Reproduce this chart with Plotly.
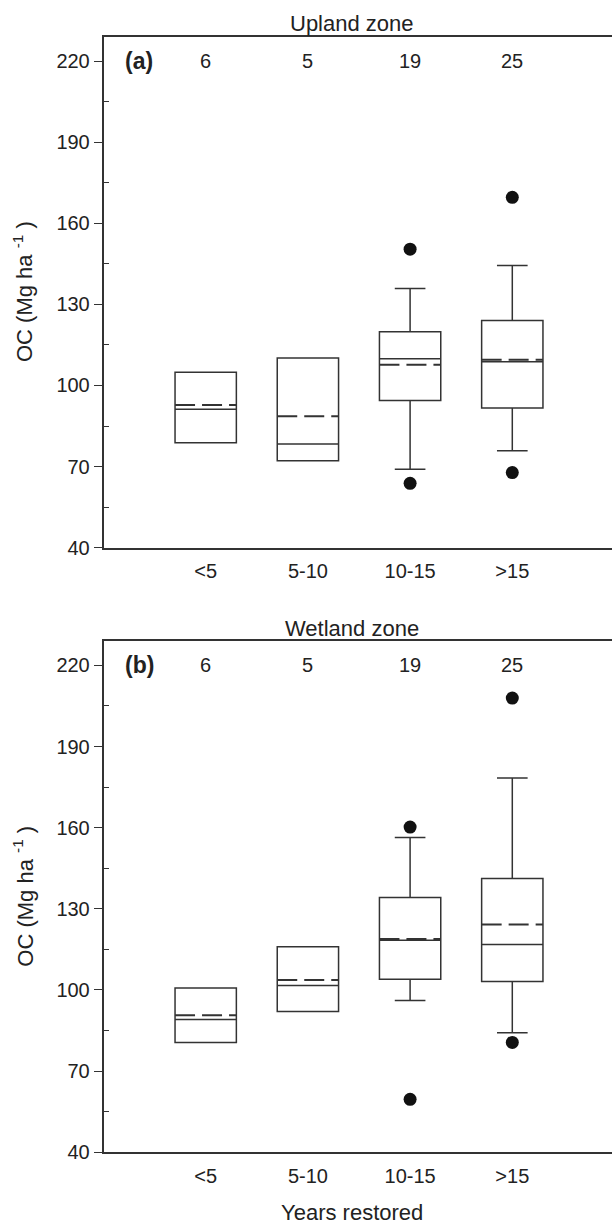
import plotly.graph_objects as go

categories = ["<5", "5-10", "10-15", ">15"]
positions = [1, 2, 3, 4]
n_counts = [6, 5, 19, 25]

# Upland zone (a)
up_q1 = [78.8, 72.2, 94.4, 91.7]
up_median = [91.2, 78.4, 109.9, 108.8]
up_q3 = [104.9, 110.2, 119.9, 124.0]
up_lower = [78.8, 72.2, 69.0, 75.9]
up_upper = [104.9, 110.2, 135.9, 144.4]
up_mean = [92.8, 88.6, 107.7, 109.5]
up_outliers = [[], [], [150.4, 63.8], [169.6, 67.8]]

# Wetland zone (b)
wet_q1 = [80.6, 92.0, 104.0, 103.1]
wet_median = [89.1, 101.7, 118.4, 116.8]
wet_q3 = [100.7, 116.0, 134.2, 141.2]
wet_lower = [80.6, 92.0, 96.1, 84.2]
wet_upper = [100.7, 116.0, 156.4, 178.4]
wet_mean = [90.7, 103.7, 118.8, 124.2]
wet_outliers = [[], [], [160.2, 59.6], [207.9, 80.6]]

y_ticks = [40, 70, 100, 130, 160, 190, 220]
y_minor = [55, 85, 115, 145, 175, 205]

FONT = "Liberation Sans, Arial, Helvetica, sans-serif"
TXT = "#222222"
LINE = "#333333"
W, H = 612, 1226
BOX_W = 0.6

fig = go.Figure()


def add_panel(q1, med, q3, lo, hi, mean, outl, xa, ya):
    fig.add_trace(go.Box(
        x=positions, q1=q1, median=med, q3=q3, lowerfence=lo, upperfence=hi,
        width=BOX_W, whiskerwidth=0.5, fillcolor="white",
        line=dict(color=LINE, width=1.5), boxpoints=False,
        xaxis=xa, yaxis=ya, showlegend=False, hoverinfo="skip"))
    mx, my = [], []
    for p, m in zip(positions, mean):
        mx += [p - BOX_W / 2, p + BOX_W / 2, None]
        my += [m, m, None]
    fig.add_trace(go.Scatter(
        x=mx, y=my, mode="lines", line=dict(color=LINE, width=2, dash="20px,7px"),
        xaxis=xa, yaxis=ya, showlegend=False, hoverinfo="skip"))
    ox, oy = [], []
    for p, vals in zip(positions, outl):
        for v in vals:
            ox.append(p)
            oy.append(v)
    fig.add_trace(go.Scatter(
        x=ox, y=oy, mode="markers", marker=dict(color="#111111", size=13),
        xaxis=xa, yaxis=ya, showlegend=False, hoverinfo="skip"))


add_panel(up_q1, up_median, up_q3, up_lower, up_upper, up_mean, up_outliers, "x", "y")
add_panel(wet_q1, wet_median, wet_q3, wet_lower, wet_upper, wet_mean, wet_outliers, "x2", "y2")

x_left = 103.5
xdom = [x_left / W, 1.0]
xrange = [0, (W - x_left) / 102.2]

def xaxis_cfg(anchor):
    return dict(domain=xdom, range=xrange, anchor=anchor, tickmode="array",
                tickvals=positions, ticktext=categories, ticks="outside", ticklen=5,
                tickcolor="rgba(0,0,0,0)", showline=True, linecolor=LINE, linewidth=1.5,
                mirror=True, showgrid=False, zeroline=False,
                tickfont=dict(family=FONT, size=20, color=TXT))

def yaxis_cfg(domain, anchor):
    return dict(domain=domain, range=[40, 229], anchor=anchor, tickmode="array",
                tickvals=y_ticks, ticks="outside", ticklen=8, tickwidth=1.3, tickcolor=LINE,
                minor=dict(tickmode="array", tickvals=y_minor, ticks="inside", ticklen=6,
                           tickwidth=1.3, tickcolor=LINE),
                showline=True, linecolor=LINE, linewidth=1.5, showgrid=False, zeroline=False,
                tickfont=dict(family=FONT, size=20, color=TXT))

dom_a = [1 - 547.7 / H, 1 - 36.7 / H]
dom_b = [1 - 1152.3 / H, 1 - 641 / H]

annotations = []
for lab, ya, title, tcy, ycen in [("(a)", "y", "Upland zone", 23, 292),
                                  ("(b)", "y2", "Wetland zone", 628, 896.7)]:
    xa = "x" if ya == "y" else "x2"
    annotations.append(dict(text=title, xref="paper", yref="paper", x=352 / W, y=1 - tcy / H,
                            xanchor="center", yanchor="middle", showarrow=False,
                            font=dict(family=FONT, size=22, color=TXT)))
    annotations.append(dict(text="<b>" + lab + "</b>", xref="paper", yref=ya, x=139 / W, y=220,
                            xanchor="center", yanchor="middle", showarrow=False,
                            font=dict(family=FONT, size=23, color=TXT)))
    for p, n in zip(positions, n_counts):
        annotations.append(dict(text=str(n), xref=xa, yref=ya, x=p, y=220,
                                xanchor="center", yanchor="middle", showarrow=False,
                                font=dict(family=FONT, size=20, color=TXT)))
    annotations.append(dict(text="OC (Mg ha <sup>-1</sup> )", xref="paper", yref="paper",
                            x=23 / W, y=1 - ycen / H, textangle=-90,
                            xanchor="center", yanchor="middle", showarrow=False,
                            font=dict(family=FONT, size=22, color=TXT)))

annotations.append(dict(text="Years restored", xref="paper", yref="paper", x=352 / W,
                        y=1 - 1212 / H, xanchor="center", yanchor="middle", showarrow=False,
                        font=dict(family=FONT, size=22, color=TXT)))

fig.update_layout(
    width=W, height=H, margin=dict(l=0, r=0, t=0, b=0),
    paper_bgcolor="white", plot_bgcolor="white", template="none",
    xaxis=xaxis_cfg("y"), yaxis=yaxis_cfg(dom_a, "x"),
    xaxis2=xaxis_cfg("y2"), yaxis2=yaxis_cfg(dom_b, "x2"),
    annotations=annotations, showlegend=False,
)

fig.write_html("out.html")
